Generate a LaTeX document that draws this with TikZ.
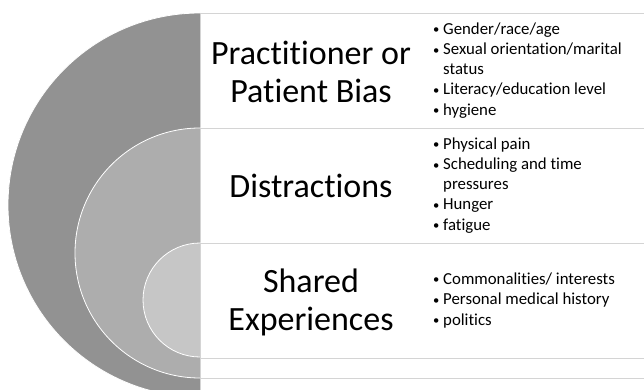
\documentclass[tikz,border=0pt]{standalone}
\usepackage{fontspec}
\setmainfont{Carlito}[RawFeature={-liga;-clig;-calt}]
\definecolor{outer}{HTML}{929292}
\definecolor{middle}{HTML}{ADADAD}
\definecolor{inner}{HTML}{C6C6C6}
\definecolor{rule}{HTML}{D4D4D4}
\newcommand\bul{\makebox[10pt][l]{\raisebox{0.8pt}{\scalebox{0.75}{\textbullet}}}}
\newcommand\cont{\hspace*{10pt}}
\tikzset{
  ring/.style={draw=white, line width=0.8pt},
  band/.style={fill=white, draw=rule, line width=0.9pt},
  heading/.style={font=\fontsize{34}{38}\selectfont, align=center},
  points/.style={font=\fontsize{16.8}{19.5}\selectfont, align=left, anchor=west, inner sep=0pt},
}
\begin{document}
\begin{tikzpicture}[x=1pt,y=-1pt]
\clip (0,0) rectangle (644,390);
\fill[white] (0,0) rectangle (644,390);
% rings and their bands, outer first
\filldraw[ring, fill=outer] (200,205) circle (192);
\filldraw[band] (200,13) rectangle (700,397);
\filldraw[ring, fill=middle] (200,253) circle (125);
\filldraw[band] (200,128) rectangle (700,378);
\filldraw[ring, fill=inner] (200,300) circle (57);
\filldraw[band] (200,243) rectangle (700,358);
% headings
\node[heading] (bias) at (311,72) {Practitioner or\\Patient Bias};
\node[heading] (distract) at (311,186) {Distractions};
\node[heading] (shared) at (311,302) {Shared\\Experiences};
% bullet lists
\node[points] (biaslist) at (433,70.5) {\bul Gender/race/age\\[1pt]
  \bul Sexual orientation/marital\\ \cont status\\[1pt]
  \bul Literacy/education level\\[1pt]
  \bul hygiene};
\node[points] (distractlist) at (433,185.5) {\bul Physical pain\\[1pt]
  \bul Scheduling and time\\ \cont pressures\\[1pt]
  \bul Hunger\\[1pt]
  \bul fatigue};
\node[points] (sharedlist) at (433,300.5) {\bul Commonalities/ interests\\[1pt]
  \bul Personal medical history\\[1pt]
  \bul politics};
\end{tikzpicture}
\end{document}
